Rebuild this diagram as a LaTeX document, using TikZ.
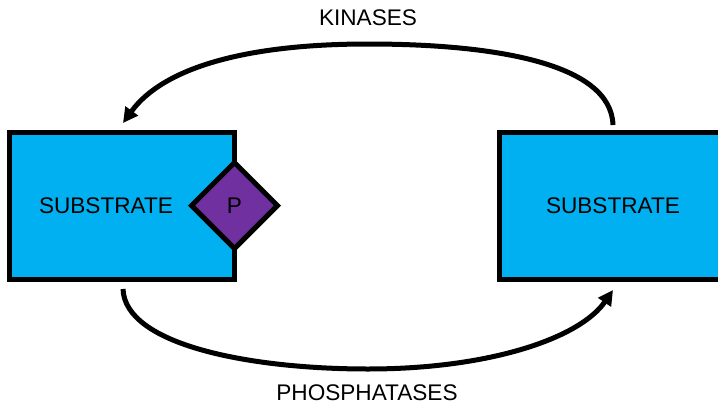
\documentclass[tikz,border=0pt]{standalone}
\usepackage{fontspec}
\setmainfont{Liberation Sans}
\usetikzlibrary{shapes.geometric,arrows.meta}
\definecolor{boxblue}{HTML}{00B0F0}
\definecolor{ppurple}{HTML}{7030A0}
\begin{document}
\begin{tikzpicture}[x=1pt,y=-1pt,
  box/.style={draw=black, line width=5pt, fill=boxblue, minimum width=225pt, minimum height=147pt, inner sep=0pt},
  pbox/.style={diamond, draw=black, line width=5pt, fill=ppurple, minimum width=88pt, minimum height=88pt, inner sep=0pt, font=\fontsize{22.6}{26}\selectfont},
  lbl/.style={font=\fontsize{22.6}{26}\selectfont, inner sep=0pt},
  arr/.style={line width=5pt, -{Triangle[length=15pt,width=15pt]}}]
\useasboundingbox (0,0) rectangle (718,405);
\node[box] (L) at (122,206) {};
\node[box, minimum width=227pt] (R) at (613,206) {};
\node[lbl] (Lt) at (106,205.5) {SUBSTRATE};
\node[lbl] (Rt) at (613,205.5) {SUBSTRATE};
\node[pbox] (P) at (234.5,205.5) {P};
\node[lbl] (K) at (368,18) {KINASES};
\node[lbl] (Ph) at (367,393) {PHOSPHATASES};
\coordinate (ks) at (613,125);
\coordinate (ke) at (123,123);
\coordinate (ps) at (123,289);
\coordinate (pe) at (613,290);
\draw[arr] (ks) .. controls (611,62) and (490,44) .. (368,44) .. controls (245,44) and (163,68) .. (ke);
\draw[arr] (ps) .. controls (125,345) and (250,369) .. (368,369) .. controls (490,369) and (580,338) .. (pe);
\end{tikzpicture}
\end{document}
